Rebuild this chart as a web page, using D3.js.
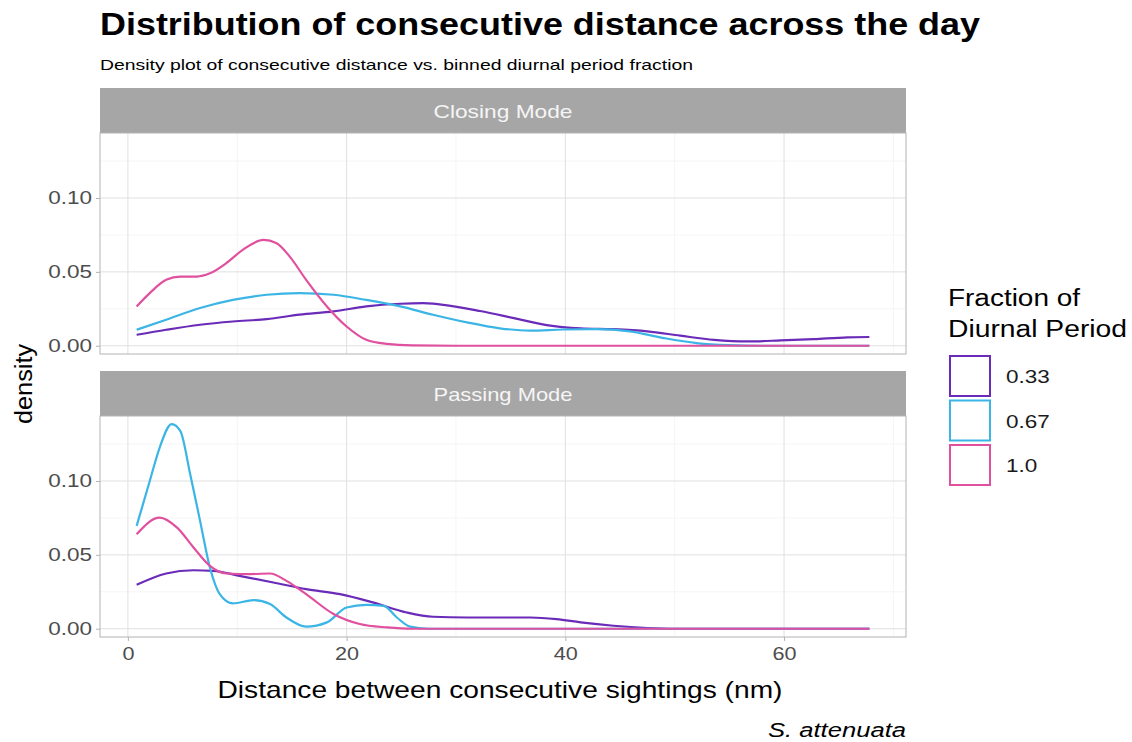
<!DOCTYPE html>
<html>
<head>
<meta charset="utf-8">
<script src="https://cdn.jsdelivr.net/npm/d3@7"></script>
<style>
  body { margin: 0; background: #fff; }
  svg { font-family: "Liberation Sans", Arial, Helvetica, sans-serif; }
</style>
</head>
<body>
<svg id="chart" width="1132" height="742"></svg>
<script>
// ---------- data ----------
const panels = ["Closing Mode", "Passing Mode"];
const groups = ["0.33", "0.67", "1.0"];
const groupColors = ["#6A2BB8", "#3BB5E5", "#E0509F"];
const xTicks = [0, 20, 40, 60];
const yTicks = [0.00, 0.05, 0.10];

// Closing Mode density curves: [distance, density]
const closing033 = [[0.8,0.0074],[3.5,0.0108],[6.6,0.0142],[9.6,0.0164],[12.7,0.0180],[15.7,0.0210],[18.8,0.0232],[21.8,0.0266],[24.9,0.0284],[27.0,0.0288],[29.5,0.0270],[32.2,0.0235],[35.3,0.0187],[38.3,0.0140],[41.4,0.0118],[44.4,0.0112],[47.5,0.0097],[50.5,0.0068],[53.6,0.0040],[56.6,0.0029],[59.7,0.0036],[62.7,0.0045],[65.8,0.0057],[67.8,0.0059]];
const closing067 = [[0.8,0.0108],[3.5,0.0176],[6.6,0.0255],[9.6,0.0310],[12.7,0.0345],[15.7,0.0356],[18.8,0.0345],[21.8,0.0310],[24.9,0.0266],[27.9,0.0210],[31.0,0.0158],[34.0,0.0118],[36.8,0.0102],[39.8,0.0110],[42.9,0.0112],[45.9,0.0097],[49.0,0.0052],[52.0,0.0018],[55.0,0.0004],[58.0,0.0000],[67.8,0.0000]];
const closing100 = [[0.8,0.0266],[2.0,0.0356],[3.5,0.0446],[4.8,0.0468],[6.3,0.0468],[7.5,0.0490],[9.0,0.0559],[10.5,0.0649],[12.4,0.0716],[13.6,0.0694],[14.8,0.0603],[16.3,0.0446],[18.2,0.0266],[20.0,0.0130],[21.8,0.0040],[23.7,0.0012],[26.0,0.0002],[30.0,0.0000],[67.8,0.0000]];

// Passing Mode density curves: [distance, density]
const passing033 = [[0.8,0.0297],[3.5,0.0374],[6.0,0.0396],[7.8,0.0392],[10.2,0.0358],[13.3,0.0313],[16.3,0.0268],[19.4,0.0234],[22.4,0.0178],[25.5,0.0110],[27.9,0.0081],[31.0,0.0076],[34.0,0.0076],[36.8,0.0076],[39.2,0.0065],[41.4,0.0043],[44.4,0.0020],[47.5,0.0005],[50.0,0.0000],[67.8,0.0000]];
const passing067 = [[0.8,0.0696],[2.0,0.1000],[2.9,0.1225],[4.0,0.1385],[4.8,0.1338],[5.7,0.1045],[6.6,0.0730],[7.5,0.0414],[8.4,0.0234],[9.6,0.0171],[11.5,0.0194],[13.0,0.0167],[14.5,0.0076],[16.3,0.0014],[18.2,0.0043],[20.0,0.0144],[21.8,0.0162],[23.4,0.0155],[24.6,0.0076],[25.8,0.0014],[27.5,0.0000],[67.8,0.0000]];
const passing100 = [[0.8,0.0640],[2.9,0.0752],[4.5,0.0684],[6.0,0.0550],[7.5,0.0426],[9.0,0.0374],[11.2,0.0370],[13.0,0.0374],[14.5,0.0324],[16.3,0.0234],[18.8,0.0100],[21.2,0.0032],[23.7,0.0009],[26.0,0.0000],[67.8,0.0000]];

const panelSeries = [[closing033, closing067, closing100], [passing033, passing067, passing100]];

// ---------- layout ----------
const svg = d3.select("#chart");
const W = 1132, H = 742;
svg.append("rect").attr("width", W).attr("height", H).attr("fill", "#fff");

// horizontally widen text (reference glyphs are wider than Liberation Sans)
function widen(sel, factor) {
  sel.each(function() {
    const len = this.getComputedTextLength();
    d3.select(this).attr("textLength", len * factor).attr("lengthAdjust", "spacingAndGlyphs");
  });
}

const left = 100, right = 906;
const stripH = 45;
const panelTops = [88, 371];
const plotH = 221;

const x = d3.scaleLinear().domain([-2.55, 71.15]).range([left, right]);

// title & subtitle
svg.append("text").attr("x", 100).attr("y", 35)
  .attr("font-size", 31).attr("font-weight", "bold").attr("fill", "#000")
  .text("Distribution of consecutive distance across the day")
  .attr("textLength", 880).attr("lengthAdjust", "spacingAndGlyphs");
svg.append("text").attr("x", 100).attr("y", 70)
  .attr("font-size", 15).attr("fill", "#000")
  .text("Density plot of consecutive distance vs. binned diurnal period fraction")
  .attr("textLength", 593).attr("lengthAdjust", "spacingAndGlyphs");

const line = d3.line().curve(d3.curveMonotoneX);

panels.forEach((name, pi) => {
  const top = panelTops[pi];
  const pTop = top + stripH, pBot = pTop + plotH;
  const y = d3.scaleLinear().domain([-0.0056, 0.1440]).range([pBot, pTop]);
  const g = svg.append("g");

  // strip
  g.append("rect").attr("x", left).attr("y", top).attr("width", right - left).attr("height", stripH)
    .attr("fill", "#A6A6A6");
  g.append("text").attr("x", (left + right) / 2).attr("y", top + stripH / 2 + 7)
    .attr("text-anchor", "middle").attr("font-size", 19).attr("fill", "#F5F5F5").text(name)
    .attr("textLength", 139).attr("lengthAdjust", "spacingAndGlyphs");

  // grid
  const minorX = [10, 30, 50, 70];
  const minorY = [0.025, 0.075, 0.125];
  g.selectAll(".mx").data(minorX).join("line")
    .attr("x1", d => x(d)).attr("x2", d => x(d)).attr("y1", pTop).attr("y2", pBot)
    .attr("stroke", "#EFEFEF").attr("stroke-width", 0.6);
  g.selectAll(".my").data(minorY).join("line")
    .attr("x1", left).attr("x2", right).attr("y1", d => y(d)).attr("y2", d => y(d))
    .attr("stroke", "#EFEFEF").attr("stroke-width", 0.6);
  g.selectAll(".gx").data(xTicks).join("line")
    .attr("x1", d => x(d)).attr("x2", d => x(d)).attr("y1", pTop).attr("y2", pBot)
    .attr("stroke", "#E0E0E0").attr("stroke-width", 1);
  g.selectAll(".gy").data(yTicks).join("line")
    .attr("x1", left).attr("x2", right).attr("y1", d => y(d)).attr("y2", d => y(d))
    .attr("stroke", "#E0E0E0").attr("stroke-width", 1);

  // curves
  panelSeries[pi].forEach((s, si) => {
    g.append("path").datum(s)
      .attr("d", line.x(d => x(d[0])).y(d => y(d[1])))
      .attr("fill", "none").attr("stroke", groupColors[si]).attr("stroke-width", 2.2);
  });

  // border
  g.append("rect").attr("x", left).attr("y", pTop).attr("width", right - left).attr("height", plotH)
    .attr("fill", "none").attr("stroke", "#B3B3B3").attr("stroke-width", 1);

  // y axis
  const yAxis = d3.axisLeft(y).tickValues(yTicks).tickFormat(d3.format(".2f")).tickSize(4).tickPadding(4);
  const ya = svg.append("g").attr("transform", `translate(${left},0)`).call(yAxis);
  ya.select(".domain").remove();
  ya.selectAll(".tick line").attr("stroke", "#B3B3B3");
  ya.selectAll(".tick text").attr("font-size", 18).attr("fill", "#4D4D4D")
    .attr("font-family", "\"Liberation Sans\", Arial, sans-serif");
  widen(ya.selectAll(".tick text"), 1.25);

  if (pi === 1) {
    const xAxis = d3.axisBottom(x).tickValues(xTicks).tickSize(4).tickPadding(6);
    const xa = svg.append("g").attr("transform", `translate(0,${pBot})`).call(xAxis);
    xa.select(".domain").remove();
    xa.selectAll(".tick line").attr("stroke", "#B3B3B3");
    xa.selectAll(".tick text").attr("font-size", 18).attr("fill", "#4D4D4D")
      .attr("font-family", "\"Liberation Sans\", Arial, sans-serif");
    widen(xa.selectAll(".tick text"), 1.2);
  }
});

// axis titles
svg.append("text").attr("x", (left + right) / 2 - 3).attr("y", 698)
  .attr("text-anchor", "middle").attr("font-size", 24).attr("fill", "#000")
  .text("Distance between consecutive sightings (nm)")
  .attr("textLength", 565).attr("lengthAdjust", "spacingAndGlyphs");
svg.append("text").attr("transform", "translate(32,384) rotate(-90)")
  .attr("text-anchor", "middle").attr("font-size", 23).attr("fill", "#000")
  .text("density")
  .attr("textLength", 80).attr("lengthAdjust", "spacingAndGlyphs");
svg.append("text").attr("x", right).attr("y", 737)
  .attr("text-anchor", "end").attr("font-size", 20).attr("font-style", "italic").attr("fill", "#000")
  .text("S. attenuata")
  .attr("textLength", 138).attr("lengthAdjust", "spacingAndGlyphs");

// legend
const lg = svg.append("g");
lg.append("text").attr("x", 948).attr("y", 306).attr("font-size", 23).attr("fill", "#000").text("Fraction of")
  .attr("textLength", 132).attr("lengthAdjust", "spacingAndGlyphs");
lg.append("text").attr("x", 948).attr("y", 337).attr("font-size", 23).attr("fill", "#000").text("Diurnal Period")
  .attr("textLength", 179).attr("lengthAdjust", "spacingAndGlyphs");
groups.forEach((gname, i) => {
  const ky = 356 + i * 44.5;
  lg.append("rect").attr("x", 950).attr("y", ky).attr("width", 40).attr("height", 40)
    .attr("fill", "#fff").attr("stroke", groupColors[i]).attr("stroke-width", 2);
  const t = lg.append("text").attr("x", 1006).attr("y", ky + 27).attr("font-size", 18).attr("fill", "#1A1A1A").text(gname);
  widen(t, 1.25);
});
</script>
</body>
</html>
